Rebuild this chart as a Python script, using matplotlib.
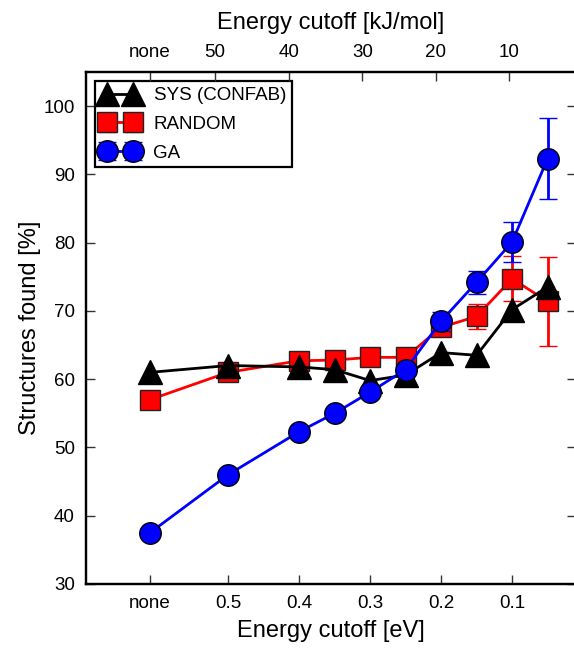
import matplotlib
matplotlib.use('Agg')
import matplotlib.pyplot as plt
import numpy as np

plt.rcParams['font.family'] = ['Liberation Sans', 'DejaVu Sans']

# x position used for the "none" cutoff (eV axis)
none_pos = 0.61
cutoff_ev = [none_pos, 0.5, 0.4, 0.35, 0.3, 0.25, 0.2, 0.15, 0.1, 0.05]

sys_found = [61.0, 62.0, 61.8, 61.4, 59.8, 60.6, 63.9, 63.5, 70.2, 73.5]
random_found = [57.0, 61.0, 62.7, 62.8, 63.2, 63.2, 67.6, 69.2, 74.7, 71.4]
random_err = [0.5, 0.5, 0.5, 0.5, 0.5, 0.5, 1.0, 1.85, 3.3, 6.5]
ga_found = [37.5, 46.0, 52.3, 55.0, 58.1, 61.4, 68.5, 74.2, 80.1, 92.3]
ga_err = [0.5, 0.5, 0.5, 0.5, 0.5, 0.5, 1.4, 1.7, 2.9, 5.9]

ev_ticks = [none_pos, 0.5, 0.4, 0.3, 0.2, 0.1]
ev_labels = ['none', '0.5', '0.4', '0.3', '0.2', '0.1']
kj_ticks = [50, 40, 30, 20, 10]
kj_labels = ['none', '50', '40', '30', '20', '10']
kj_per_ev = 96.485

fig = plt.figure(figsize=(5.74, 6.48), dpi=100)
ax = fig.add_axes([86/574, 64/648, 490/574, 512/648])

er = ax.errorbar(cutoff_ev, random_found, yerr=random_err, fmt='-s', color='red',
                 mec='#222222', mew=1, ms=15, lw=2, elinewidth=2, capsize=6.5,
                 capthick=2, zorder=2)
sy, = ax.plot(cutoff_ev, sys_found, '-^', color='black', mec='black', ms=17, lw=2, zorder=3)
ga = ax.errorbar(cutoff_ev, ga_found, yerr=ga_err, fmt='-o', color='blue',
                 mec='black', mew=1, ms=15.5, lw=2, elinewidth=2, capsize=6.5,
                 capthick=2, zorder=4)

ax.set_xlim(0.70, 0.01)
ax.set_ylim(30, 105)
ax.set_xticks(ev_ticks)
ax.set_xticklabels(ev_labels)
ax.set_yticks(np.arange(30, 101, 10))
ax.tick_params(direction='in', length=6.5, width=1, color='#333333', labelsize=13.5,
               pad=8, right=True)
ax.set_xlabel('Energy cutoff [eV]', fontsize=17, labelpad=6)
ax.set_ylabel('Structures found [%]', fontsize=17, labelpad=2)

ax2 = ax.twiny()
ax2.set_xlim(ax.get_xlim())
ax2.set_xticks([none_pos] + [k / kj_per_ev for k in kj_ticks])
ax2.set_xticklabels(kj_labels)
ax2.tick_params(direction='in', length=6.5, width=1, color='#333333', labelsize=13.5, pad=8)
ax2.set_xlabel('Energy cutoff [kJ/mol]', fontsize=17, labelpad=11)

for a in (ax, ax2):
    for s in a.spines.values():
        s.set_linewidth(1.6)

leg = ax.legend([sy, er, ga], ['SYS (CONFAB)', 'RANDOM', 'GA'], loc='upper left',
                numpoints=2, fontsize=13.5, fancybox=False, framealpha=1,
                edgecolor='black', labelspacing=0.62, handletextpad=0.8,
                borderaxespad=0.5, borderpad=0.3)
leg.get_frame().set_linewidth(1.6)

fig.savefig('out.png', dpi=100)
